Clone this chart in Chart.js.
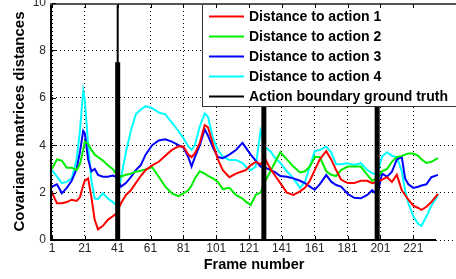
<!DOCTYPE html>
<html><head><meta charset="utf-8">
<script src="https://cdn.jsdelivr.net/npm/chart.js@4/dist/chart.umd.min.js"></script>
<style>html,body{margin:0;padding:0;background:#fff;overflow:hidden}#wrap{width:456px;height:279px}</style>
</head><body><div id="wrap"><canvas id="c" width="456" height="279"></canvas></div>
<script>
const frames = [1,4,7,10,13,16,18,20,21,23,25,27,29,32,35,38,40,43,46,49,52,55,58,62,66,70,74,78,81,84,86,88,91,94,96,99,102,105,109,113,117,119,122,125,128,131,134,137,140,144,148,152,155,158,161,164,168,171,174,177,181,185,189,193,196,199,202,205,208,211,214,216,218,221,224,226,229,232,236];
const dist1 = [2.0,1.55,1.55,1.6,1.7,1.65,1.8,2.3,2.5,2.6,1.8,0.85,0.45,0.6,0.85,1.0,1.1,1.55,1.9,2.1,2.4,2.7,2.95,3.15,3.3,3.55,3.8,3.95,3.95,3.6,3.5,3.65,4.1,4.85,4.75,4.05,3.4,2.95,2.65,2.8,2.9,2.95,3.15,3.3,3.2,3.4,3.0,2.7,2.4,2.0,1.9,2.05,2.2,2.5,2.95,3.4,3.75,3.4,2.95,2.55,2.4,2.4,2.5,2.5,2.4,2.45,2.55,2.65,2.45,2.75,2.1,1.9,1.7,1.45,1.35,1.27,1.4,1.6,1.95];
const dist2 = [3.0,3.4,3.35,3.05,3.05,2.95,3.2,3.8,4.15,4.05,3.8,3.6,3.5,3.35,3.15,3.0,2.8,2.67,2.75,2.8,2.88,2.92,2.98,3.07,2.67,2.25,1.97,1.85,1.97,2.1,2.3,2.6,2.9,2.8,2.7,2.6,2.45,2.15,2.2,1.9,1.75,1.62,1.48,1.9,2.0,2.5,2.9,3.3,3.7,3.4,3.1,2.85,2.9,3.1,3.5,3.5,2.9,2.75,2.7,2.95,3.1,3.1,3.1,2.75,2.5,2.6,2.9,3.0,3.3,3.5,3.55,3.6,3.65,3.65,3.55,3.4,3.25,3.3,3.45];
const dist3 = [2.25,2.35,1.97,2.2,2.5,3.0,3.7,4.6,4.5,3.4,2.9,3.0,2.75,2.67,2.67,2.72,2.67,2.25,2.4,2.65,2.95,3.15,3.6,4.0,4.2,4.25,4.15,4.0,3.9,3.5,3.1,3.5,4.0,4.67,4.4,3.9,3.5,3.45,3.6,3.8,4.1,3.9,3.6,3.35,3.1,3.05,2.95,2.85,2.7,2.67,2.6,2.5,2.4,2.25,2.12,2.35,2.74,2.46,2.32,2.25,1.95,1.78,1.76,1.9,2.1,1.9,2.8,2.67,2.88,3.4,3.5,2.6,2.35,2.2,2.25,2.3,2.35,2.65,2.75];
const dist4 = [2.95,2.67,2.4,2.45,2.6,3.4,4.6,6.3,5.9,4.0,2.5,1.75,1.72,1.97,1.75,1.6,1.48,2.6,3.7,4.6,5.3,5.5,5.65,5.56,5.38,5.3,4.95,4.6,4.3,3.95,3.8,4.0,4.8,5.34,5.2,4.3,3.8,3.52,3.38,3.38,3.25,3.09,2.95,3.09,4.6,3.9,3.75,3.45,3.25,2.9,2.6,2.2,2.45,3.1,3.75,3.8,3.94,3.7,3.2,3.2,3.24,3.17,3.24,2.95,2.82,2.75,3.52,3.7,3.55,3.5,2.9,2.1,1.55,1.0,0.68,0.6,1.0,1.45,1.9];
const seriesNames = ['Distance to action 1','Distance to action 2','Distance to action 3','Distance to action 4','Action boundary ground truth'];
const xTicks = [1,21,41,61,81,101,121,141,161,181,201,221];
const yTicks = [0,2,4,6,8,10];
const boundaryFrames = [41,130,199];
const boundaryTop = [10,10,10];
const boundaryThickTop = [7.5,10,10];

const colors = ['#ff0000','#00ee00','#0000ff','#00ffff','#000000'];
const FONT = "'Liberation Sans', Arial, sans-serif";

function pts(vals){ return frames.map((f,i)=>({x:f,y:vals[i]})); }
function bars(tops){
  const out=[];
  boundaryFrames.forEach((f,i)=>{ out.push({x:f,y:0}); out.push({x:f,y:tops[i]}); out.push({x:f,y:null}); });
  return out;
}

const datasets = [dist1,dist2,dist3,dist4].map((v,i)=>({
  label: seriesNames[i], data: pts(v), borderColor: colors[i], borderWidth: 2,
  pointRadius: 0, tension: 0, fill: false, order: 2
}));
datasets.push({label: seriesNames[4], data: bars(boundaryTop), borderColor:'#000', borderWidth:2, pointRadius:0, spanGaps:false, order:1});
datasets.push({label: '_thick', data: bars(boundaryThickTop), borderColor:'#000', borderWidth:5, pointRadius:0, spanGaps:false, order:0});

const frameLegendPlugin = {
  id: 'frameLegend',
  afterDraw(chart){
    const ctx = chart.ctx, a = chart.chartArea;
    const xs = chart.scales.x, ys = chart.scales.y;
    ctx.save();
    // legend box
    ctx.fillStyle = '#fff';
    ctx.fillRect(202, 4, 260, 103);
    ctx.strokeStyle = '#333'; ctx.lineWidth = 1;
    ctx.strokeRect(202.5, 4.5, 300, 102);
    ctx.font = 'bold 14px ' + FONT;
    ctx.textBaseline = 'middle'; ctx.textAlign = 'left';
    for (let i=0;i<seriesNames.length;i++){
      const y = 16.5 + i*20;
      ctx.strokeStyle = colors[i]; ctx.lineWidth = 2;
      ctx.beginPath(); ctx.moveTo(209, y); ctx.lineTo(244, y); ctx.stroke();
      ctx.fillStyle = '#000';
      ctx.fillText(seriesNames[i], 249, y+0.5);
    }
    // axes frame
    ctx.strokeStyle = '#000'; ctx.lineWidth = 2;
    ctx.beginPath(); ctx.moveTo(a.left-1, a.top); ctx.lineTo(a.left-1, a.bottom+1); ctx.stroke();
    ctx.beginPath(); ctx.moveTo(a.left-2, a.bottom); ctx.lineTo(436, a.bottom); ctx.stroke();
    ctx.strokeStyle = '#555';
    ctx.beginPath(); ctx.moveTo(a.left-2, a.top+1); ctx.lineTo(a.right, a.top+1); ctx.stroke();
    // inner ticks
    ctx.strokeStyle = '#000'; ctx.lineWidth = 1;
    xTicks.forEach(v=>{
      const px = Math.round(xs.getPixelForValue(v))+0.5;
      ctx.beginPath(); ctx.moveTo(px, a.bottom); ctx.lineTo(px, a.bottom-4); ctx.stroke();
      ctx.beginPath(); ctx.moveTo(px, a.top+1); ctx.lineTo(px, a.top+5); ctx.stroke();
    });
    yTicks.forEach(v=>{
      const py = Math.round(ys.getPixelForValue(v))+0.5;
      ctx.beginPath(); ctx.moveTo(a.left, py); ctx.lineTo(a.left+4, py); ctx.stroke();
    });
    ctx.restore();
  }
};

new Chart(document.getElementById('c'), {
  type: 'line',
  data: { datasets },
  options: {
    responsive: false, animation: false, devicePixelRatio: 1,
    layout: { padding: { top: 3, left: 0, right: 0, bottom: 0 } },
    plugins: { legend: { display: false }, tooltip: { enabled: false } },
    scales: {
      x: {
        type: 'linear', min: 1, max: 247,
        afterBuildTicks(s){ s.ticks = xTicks.map(v=>({value:v})); },
        afterFit(s){ s.height = 39; s.paddingLeft = 0; s.paddingRight = 0; },
        ticks: { padding: 1, color: '#262626', font: { family: FONT, size: 12 }, maxRotation: 0, autoSkip: false },
        grid: { color: '#000', lineWidth: 1, drawTicks: false },
        border: { display: false, dash: [1,3] },
        title: { display: true, text: 'Frame number', color: '#000', font: { family: FONT, size: 14.5, weight: 'bold' }, padding: { top: 0, bottom: 5 } }
      },
      y: {
        min: 0, max: 10,
        afterBuildTicks(s){ s.ticks = yTicks.map(v=>({value:v})); },
        afterFit(s){ s.width = 52; s.paddingTop = 0; s.paddingBottom = 0; },
        ticks: { padding: 6, color: '#262626', font: { family: FONT, size: 12 } },
        grid: { color: '#000', lineWidth: 1, drawTicks: false },
        border: { display: false, dash: [1,3] },
        title: { display: true, text: 'Covariance matrices distances', color: '#000', font: { family: FONT, size: 15, weight: 'bold' }, padding: { top: 11, bottom: 0 } }
      }
    }
  },
  plugins: [frameLegendPlugin]
});
</script>
</body></html>
